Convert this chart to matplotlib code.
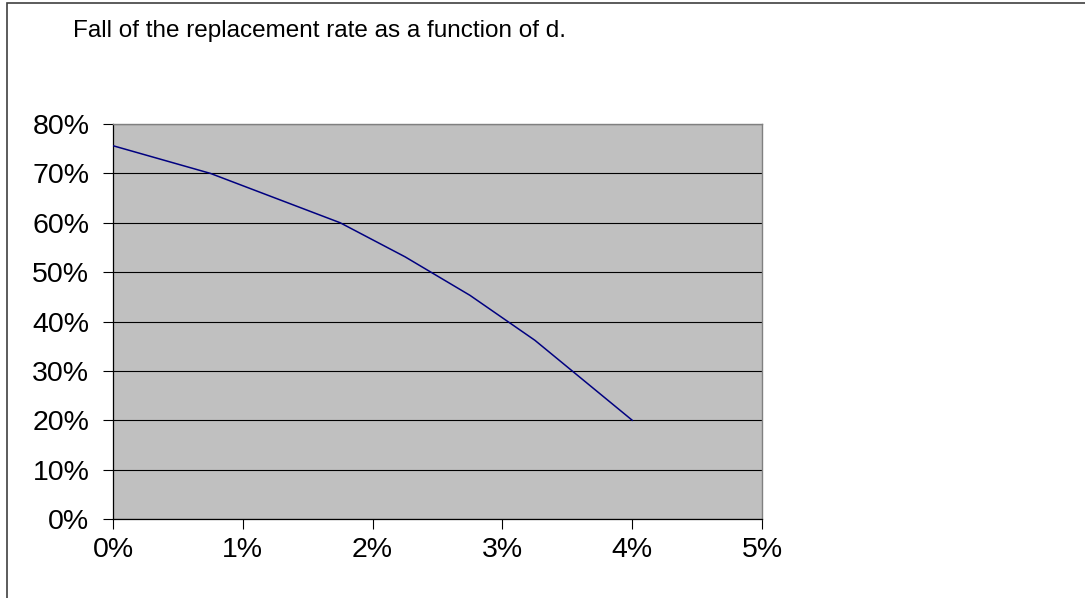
import matplotlib
matplotlib.use("Agg")
import matplotlib.pyplot as plt
from matplotlib.patches import Rectangle
from matplotlib.ticker import FuncFormatter, MultipleLocator

plt.rcParams['font.family'] = ['Liberation Sans', 'DejaVu Sans']

title = "Fall of the replacement rate as a function of d."
d_values = [0.0, 0.75, 1.75, 2.25, 2.75, 3.25, 4.0]          # in %
replacement_rate = [75.6, 70.0, 60.0, 53.1, 45.3, 36.2, 20.0]  # in %

W, H = 1085, 598
fig = plt.figure(figsize=(W / 100, H / 100), dpi=100)

# chart-area frame (only left and top edges visible)
fig.patches.append(Rectangle((7 / W, -0.1), 1.2, 1 - 3 / H + 0.1,
                             transform=fig.transFigure, fill=False,
                             edgecolor='#404040', linewidth=1.2))

ax = fig.add_axes([113 / W, 1 - 519 / H, (762 - 113) / W, (519 - 124) / H])
ax.set_facecolor('#C0C0C0')
ax.plot(d_values, replacement_rate, color='#000080', linewidth=1.1, zorder=3)

ax.set_xlim(0, 5)
ax.set_ylim(0, 80)
ax.xaxis.set_major_locator(MultipleLocator(1))
ax.yaxis.set_major_locator(MultipleLocator(10))
ax.xaxis.set_major_formatter(FuncFormatter(lambda v, p: f"{v:.0f}%"))
ax.yaxis.set_major_formatter(FuncFormatter(lambda v, p: f"{v:.0f}%"))
ax.grid(axis='y', color='black', linewidth=0.8)
ax.set_axisbelow(True)

ax.tick_params(axis='both', direction='out', length=7, width=0.8,
               labelsize=20.5, colors='black')
ax.tick_params(axis='y', pad=10)
ax.tick_params(axis='x', pad=6)

for s in ('left', 'bottom'):
    ax.spines[s].set_color('black')
    ax.spines[s].set_linewidth(0.9)
for s in ('top', 'right'):
    ax.spines[s].set_color('#808080')
    ax.spines[s].set_linewidth(1.0)

fig.text(73 / W, 1 - 37 / H, title, fontsize=17.5, va='baseline', ha='left')

fig.savefig('out.png', dpi=100)
